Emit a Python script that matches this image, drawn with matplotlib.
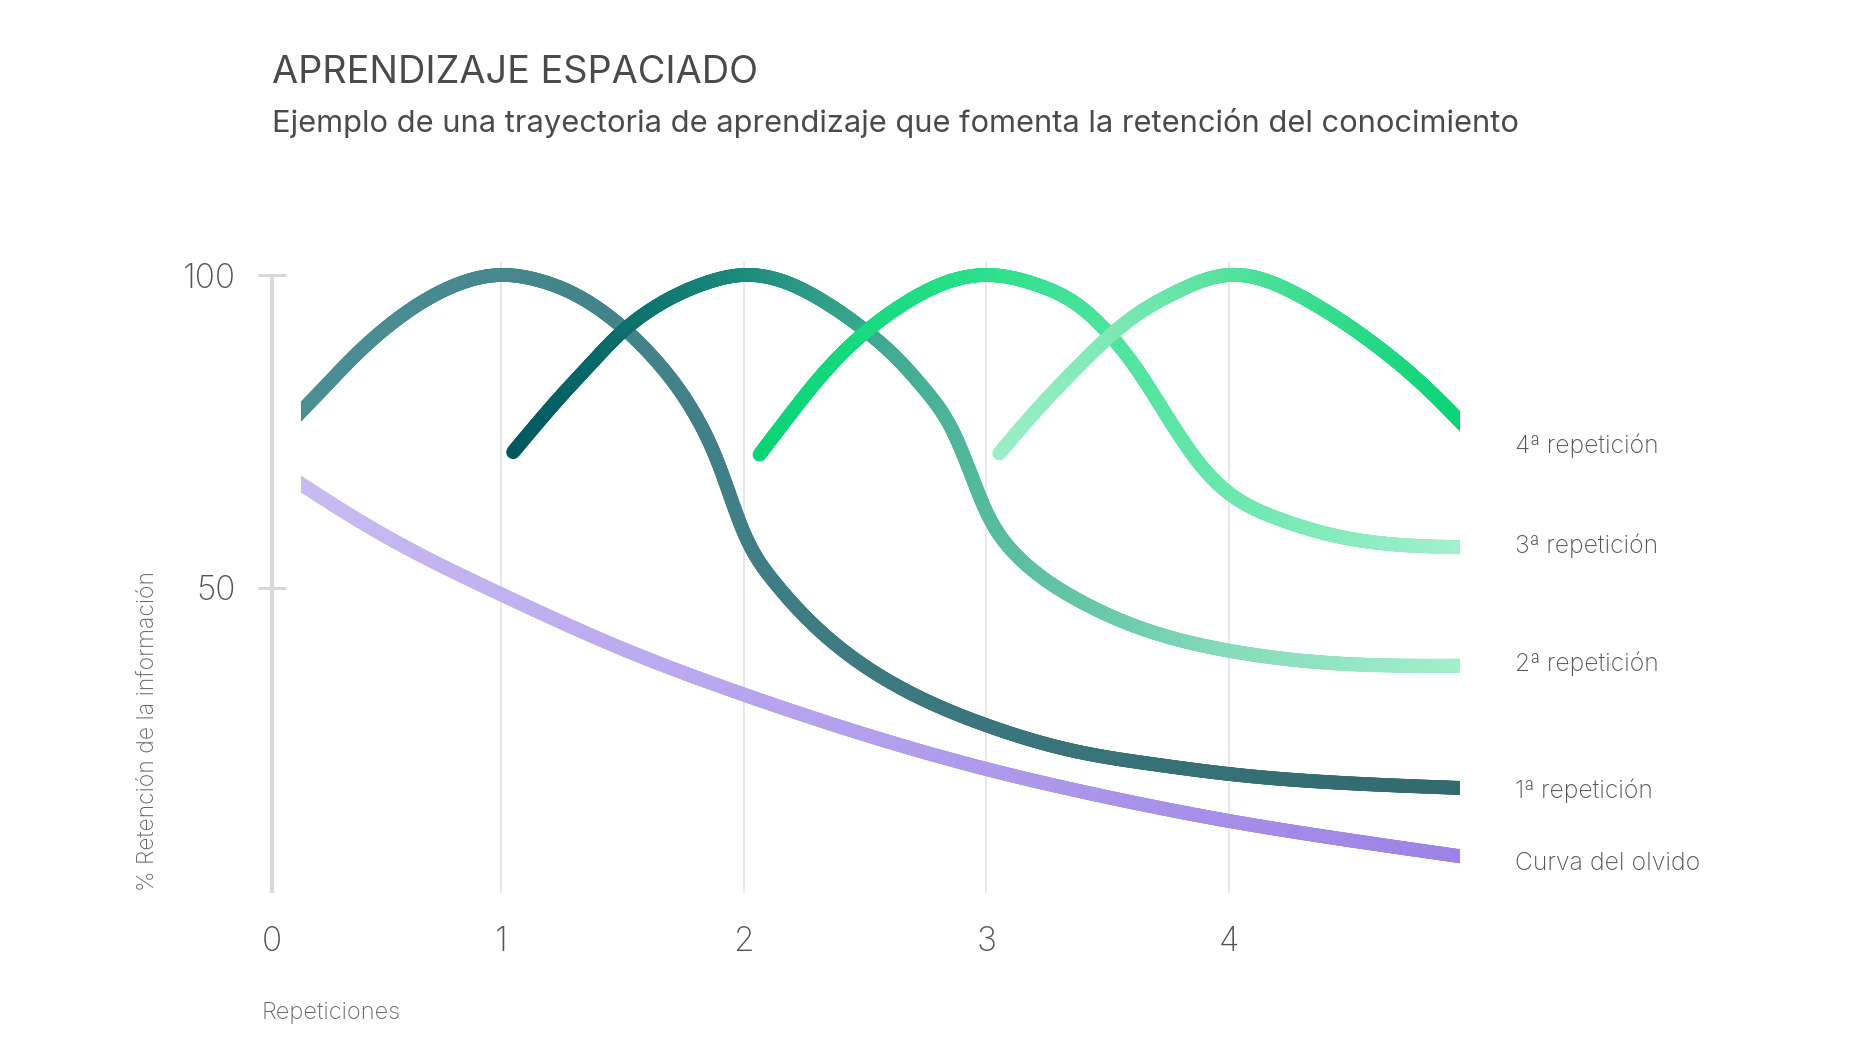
import numpy as np
import matplotlib
matplotlib.use("Agg")
import matplotlib.pyplot as plt
from matplotlib.collections import LineCollection
from matplotlib.patches import Rectangle
from matplotlib.colors import to_rgb

# ------------------------------------------------------------------ data
title = "APRENDIZAJE ESPACIADO"
subtitle = "Ejemplo de una trayectoria de aprendizaje que fomenta la retención del conocimiento"
x_label = "Repeticiones"
y_label = "% Retención de la información"
x_tick_labels = ["0", "1", "2", "3", "4"]
y_tick_values = [50, 100]

names = ["Curva del olvido", "1ª repetición", "2ª repetición", "3ª repetición", "4ª repetición"]

olvido_x = [0.10, 0.50, 1.00, 1.50, 2.00, 2.50, 3.00, 3.50, 4.00, 4.50, 5.00]
olvido_y = [68.5, 58.8, 49.0, 40.3, 33.0, 26.6, 21.1, 16.6, 12.8, 9.7, 6.9]

rep1_x = [0.10, 0.27, 0.40, 0.54, 0.68, 0.82, 1.00, 1.16, 1.30, 1.49, 1.64, 1.78, 1.90,
          2.00, 2.06, 2.12, 2.26, 2.46, 2.67, 3.00, 3.36, 3.70, 4.00, 4.50, 5.00]
rep1_y = [75.2, 82.0, 87.2, 92.0, 95.8, 98.5, 100.0, 99.1, 97.0, 92.0, 86.3, 79.0, 69.5,
          59.0, 54.5, 51.3, 45.2, 38.6, 33.6, 28.1, 24.0, 21.8, 20.3, 18.8, 18.0]

rep2_x = [1.05, 1.23, 1.37, 1.49, 1.64, 1.85, 2.00, 2.19, 2.33, 2.50, 2.64, 2.75, 2.86,
          2.945, 3.00, 3.08, 3.15, 3.36, 3.63, 4.00, 4.47, 5.00]
rep2_y = [71.7, 79.9, 85.8, 90.6, 95.0, 98.8, 100.0, 98.6, 95.8, 91.2, 86.4, 81.6, 75.3,
          67.5, 62.3, 57.2, 54.3, 48.5, 43.7, 40.0, 37.9, 37.6]

rep3_x = [2.066, 2.19, 2.33, 2.50, 2.67, 2.835, 3.00, 3.22, 3.36, 3.50, 3.63, 3.77, 3.91,
          4.00, 4.19, 4.47, 5.00]
rep3_y = [71.3, 77.6, 84.3, 90.8, 95.6, 98.8, 100.0, 98.3, 95.7, 90.9, 84.5, 76.0, 68.5,
          65.2, 61.3, 58.1, 56.5]

rep4_x = [3.055, 3.22, 3.36, 3.50, 3.63, 3.77, 4.00, 4.33, 4.61, 4.81, 5.00]
rep4_y = [71.5, 78.9, 84.6, 89.9, 93.9, 97.0, 100.0, 95.9, 88.7, 82.2, 74.8]

# ------------------------------------------------------------------ style
W, H = 1850, 1060
TXT = "#4a4a4a"
TICK_TXT = "#555555"
AX_GREY = "#d9d9d9"
GRID_GREY = "#e4e4e4"
LW = 10
FAM = ["Inter", "DejaVu Sans"]

grad_olvido = [(0.1, "#cabcf2"), (2.0, "#b7a6ee"), (5.0, "#9b83e6")]
grad_rep1 = [(0.1, "#4b9095"), (1.5, "#43838a"), (3.0, "#3a767c"), (5.0, "#326a6e")]
grad_rep2 = [(1.05, "#00585f"), (1.5, "#0b6d6c"), (2.0, "#1b8b7a"), (2.5, "#39a78e"),
             (3.0, "#55ba9c"), (3.5, "#69c9a8"), (4.0, "#84dcb9"), (5.0, "#a4efcc")]
grad_rep3 = [(2.07, "#08d576"), (3.0, "#2adf8b"), (3.5, "#4be39c"), (4.0, "#6ae7ae"),
             (5.0, "#a4f0cd")]
grad_rep4 = [(3.05, "#9ceec8"), (3.5, "#80e9b6"), (4.0, "#55e2a0"), (4.5, "#2fdb8a"),
             (5.0, "#05d373")]

X_ORIGIN = 0.056          # where the vertical axis line sits
CLIP_L, CLIP_R = 0.177, 4.955


def smooth(x, y, n=800):
    """Natural cubic spline drawing path through the read points."""
    x = np.asarray(x, float)
    y = np.asarray(y, float)
    N = len(x)
    h = np.diff(x)
    A = np.zeros((N, N))
    b = np.zeros(N)
    A[0, 0] = A[-1, -1] = 1.0
    for i in range(1, N - 1):
        A[i, i - 1] = h[i - 1]
        A[i, i] = 2 * (h[i - 1] + h[i])
        A[i, i + 1] = h[i]
        b[i] = 6 * ((y[i + 1] - y[i]) / h[i] - (y[i] - y[i - 1]) / h[i - 1])
    M = np.linalg.solve(A, b)
    xs = np.linspace(x[0], x[-1], n)
    i = np.clip(np.searchsorted(x, xs) - 1, 0, N - 2)
    hi = h[i]
    a = x[i + 1] - xs
    c = xs - x[i]
    ys = (M[i] * a**3 / (6 * hi) + M[i + 1] * c**3 / (6 * hi)
          + (y[i] / hi - M[i] * hi / 6) * a + (y[i + 1] / hi - M[i + 1] * hi / 6) * c)
    return xs, ys


def grad_colors(xs, stops):
    sx = np.array([s[0] for s in stops])
    sc = np.array([to_rgb(s[1]) for s in stops])
    return np.stack([np.interp(xs, sx, sc[:, k]) for k in range(3)], axis=1)


def px(x, y):
    return x / W, 1 - y / H


fig = plt.figure(figsize=(W / 100, H / 100), dpi=100)
fig.patch.set_facecolor("white")
x0, x5 = 258.5, 1471.0
y0, y100 = 901.0, 275.0
ax = fig.add_axes([x0 / W, 1 - y0 / H, (x5 - x0) / W, (y0 - y100) / H])
ax.set_xlim(0, 5)
ax.set_ylim(0, 100)
ax.set_facecolor("none")

for s in ("top", "right", "bottom"):
    ax.spines[s].set_visible(False)
ax.spines["left"].set_position(("data", X_ORIGIN))
ax.spines["left"].set_bounds(1.3, 100)
ax.spines["left"].set_color(AX_GREY)
ax.spines["left"].set_linewidth(3)
ax.spines["left"].set_capstyle("butt")

xt = [X_ORIGIN] + list(range(1, len(x_tick_labels)))
ax.set_xticks(xt, x_tick_labels)
ax.set_yticks(y_tick_values, [str(v) for v in y_tick_values])
ax.tick_params(axis="x", length=0, pad=18, labelsize=24, labelcolor=TICK_TXT)
ax.tick_params(axis="y", direction="inout", length=20, width=2.2, color=AX_GREY,
               pad=16, labelsize=24, labelcolor=TICK_TXT)
for lab in ax.get_xticklabels() + ax.get_yticklabels():
    lab.set_fontfamily(FAM)
    lab.set_fontweight("light")

ax.vlines(xt[1:], 1.3, 102, color=GRID_GREY, lw=1.2, zorder=0, clip_on=False)

series = [(olvido_x, olvido_y, grad_olvido), (rep1_x, rep1_y, grad_rep1),
          (rep2_x, rep2_y, grad_rep2), (rep3_x, rep3_y, grad_rep3),
          (rep4_x, rep4_y, grad_rep4)]
for k, (sx, sy, g) in enumerate(series):
    xs, ys = smooth(sx, sy)
    pts = np.column_stack([xs, ys]).reshape(-1, 1, 2)
    segs = np.concatenate([pts[:-1], pts[1:]], axis=1)
    cols = grad_colors((xs[:-1] + xs[1:]) / 2, g)
    lc = LineCollection(segs, colors=cols, linewidths=LW, capstyle="round", zorder=3 + k)
    ax.add_collection(lc)
    lc.set_clip_path(Rectangle((CLIP_L, -20), CLIP_R - CLIP_L, 140, transform=ax.transData))

# right-hand series labels
label_y = {"4ª repetición": 446, "3ª repetición": 546, "2ª repetición": 664,
           "1ª repetición": 791, "Curva del olvido": 864}
texts = []
for nm in names:
    t = fig.text(*px(1515, label_y[nm]), nm, ha="left", va="center", fontsize=19,
                 color=TICK_TXT, family=FAM, fontweight="light")
    texts.append(t)

t_title = fig.text(*px(272, 73), title, ha="left", va="center", fontsize=27,
                   color=TXT, family=FAM, fontweight="normal")
t_sub = fig.text(*px(272, 123), subtitle, ha="left", va="center", fontsize=20,
                 color=TXT, family=FAM, fontweight="normal")
t_xl = fig.text(*px(261, 1013), x_label, ha="left", va="center", fontsize=17,
                color="#666666", family=FAM, fontweight="light")
t_yl = fig.text(*px(148, 891), y_label, ha="center", va="bottom", rotation=90, fontsize=17,
                color="#666666", family=FAM, fontweight="light")

# fit widths to the reference layout
r = fig.canvas.get_renderer()


def fit(t, target, vertical=False):
    bb = t.get_window_extent(renderer=r)
    cur = bb.height if vertical else bb.width
    t.set_fontsize(t.get_fontsize() * target / cur)


fit(t_title, 485)
fit(t_sub, 1244)
fit(t_xl, 139)
fit(t_yl, 319, vertical=True)
fit(texts[0], 184)
for t in texts[1:]:
    t.set_fontsize(texts[0].get_fontsize())

fig.savefig("out.png", dpi=100, facecolor="white")
